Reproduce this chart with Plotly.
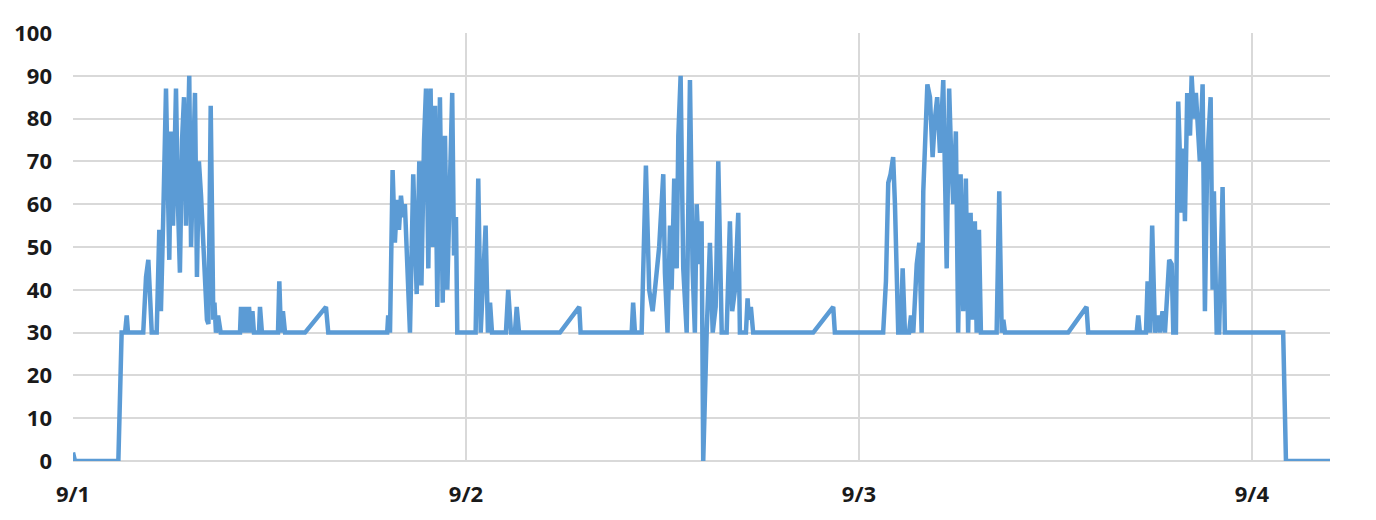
import pandas as pd
import plotly.graph_objects as go

# hours since 9/1 00:00 and the reading at that time
hours = [
    0.00, 0.12, 2.77, 2.97, 3.18, 3.28, 3.36, 4.29, 4.46, 4.60, 4.81, 5.11, 5.27, 5.37, 5.50,
    5.68, 5.88, 5.99, 6.11, 6.29, 6.41, 6.53, 6.66, 6.78, 6.90, 7.02, 7.10, 7.21, 7.33, 7.45,
    7.57, 7.69, 7.82, 7.96, 8.06, 8.18, 8.27, 8.41, 8.57, 8.64, 8.73, 8.86, 9.02, 10.20, 10.26,
    10.38, 10.50, 10.63, 10.75, 10.87, 10.96, 11.05, 11.36, 11.42, 11.54, 12.52, 12.60, 12.70,
    12.82, 12.95, 14.17, 15.45, 15.59,
    19.19, 19.25, 19.36, 19.52, 19.66, 19.79, 19.91, 20.03, 20.15, 20.27, 20.58, 20.78, 20.99,
    21.15, 21.28, 21.44, 21.56, 21.70, 21.84, 21.97, 22.11, 22.25, 22.41, 22.58, 22.72, 22.86,
    23.02, 23.16, 23.27, 23.39, 23.47, 24.59, 24.75, 24.90, 25.20, 25.34, 25.47, 25.59, 26.44,
    26.58, 26.75, 26.99, 27.10, 27.24, 29.74, 30.92, 31.00,
    34.12, 34.21, 34.32, 34.73, 34.99, 35.19, 35.40, 35.54, 35.80, 36.05, 36.15, 36.31, 36.46,
    36.56, 36.72, 36.87, 36.97, 37.11, 37.27, 37.48, 37.68, 37.84, 37.98, 38.09, 38.25, 38.39,
    38.49, 38.70, 38.90, 39.07, 39.25, 39.41, 39.62, 39.92, 40.12, 40.26, 40.43, 40.63, 40.73,
    41.10, 41.20, 41.28, 41.40, 41.54, 45.21, 46.43, 46.53,
    49.48, 49.65, 49.79, 49.93, 50.09, 50.20, 50.40, 50.55, 50.67, 50.81, 51.06, 51.18, 51.32,
    51.53, 51.69, 51.83, 51.93, 52.08, 52.18, 52.34, 52.50, 52.64, 52.78, 52.95, 53.15, 53.36,
    53.51, 53.62, 53.76, 53.92, 54.06, 54.21, 54.37, 54.53, 54.67, 54.82, 54.94, 55.08, 55.19,
    55.33, 55.45, 56.41, 56.57, 56.72, 56.82, 56.92, 60.78, 61.90, 62.00,
    64.96, 65.06, 65.16, 65.53, 65.63, 65.77, 65.91, 66.08, 66.28, 66.38, 66.54, 66.69, 66.95,
    67.10, 67.20, 67.36, 67.50, 67.71, 67.81, 67.91, 68.05, 68.22, 68.32, 68.46, 68.58, 68.72,
    68.82, 68.99, 69.13, 69.27, 69.48, 69.60, 69.68, 69.85, 70.00, 70.21, 70.35, 73.91, 74.08,
    76.77,
]
values = [
    2, 0, 0, 30, 30, 34, 30, 30, 43, 47, 30, 30, 54, 35, 55,
    87, 47, 77, 55, 87, 60, 44, 75, 85, 55, 82, 90, 50, 72, 86,
    43, 70, 62, 50, 40, 33, 32, 83, 33, 37, 30, 34, 30, 30, 36,
    30, 36, 30, 36, 30, 35, 30, 30, 36, 30, 30, 42, 30,
    35, 30, 30, 36, 30,
    30, 34, 30, 68, 51, 61, 54, 62, 57, 60, 30, 67, 39,
    70, 41, 75, 87, 45, 87, 50, 83, 36, 85, 37, 76, 40,
    70, 86, 48, 57, 30, 30, 66, 30, 55, 30, 37, 30, 30,
    40, 30, 30, 36, 30, 30, 36, 30,
    30, 37, 30, 30, 69, 40, 35, 40, 50, 67, 44, 30, 55,
    40, 66, 45, 76, 90, 45, 30, 89, 45, 30, 60, 46, 56,
    0, 30, 51, 30, 36, 70, 30, 30, 56, 35, 40, 58, 30,
    30, 38, 33, 36, 30, 30, 36, 30,
    30, 42, 65, 67, 71, 60, 30, 30, 45, 30, 30, 34, 30,
    46, 51, 30, 63, 81, 88, 85, 71, 80, 85, 72, 89, 45,
    87, 73, 60, 77, 30, 67, 35, 66, 30, 58, 33, 56, 30,
    54, 30, 30, 63, 30, 33, 30, 30, 36, 30,
    30, 34, 30, 30, 42, 30, 55, 30, 34, 30, 35, 30, 47,
    46, 30, 30, 84, 58, 73, 56, 86, 76, 90, 80, 86, 74,
    70, 88, 35, 70, 85, 40, 63, 30, 30, 64, 30, 30, 0,
    0,
]

start = pd.Timestamp("2023-09-01")
times = start + pd.to_timedelta(hours, unit="h")
end = start + pd.to_timedelta(76.77, unit="h")

fig = go.Figure(
    go.Scatter(x=times, y=values, mode="lines", line=dict(color="#5B9BD5", width=4.5))
)

tick_font = dict(family="Open Sans", size=22, color="#1a1a1a", weight="bold")

# the page body adds an 8px margin, so the figure is sized to fit inside it
fig.update_layout(
    width=1366,
    height=510,
    margin=dict(l=65, r=44, t=25, b=57),
    plot_bgcolor="white",
    paper_bgcolor="white",
    showlegend=False,
)
fig.update_xaxes(
    type="date",
    range=[start, end],
    dtick=86400000,
    tick0=start,
    tickformat="%-m/%-d",
    showgrid=True,
    gridcolor="#d9d9d9",
    gridwidth=2,
    zeroline=False,
    showline=False,
    tickfont=tick_font,
    ticklabelstandoff=18,
    automargin=False,
)
fig.update_yaxes(
    range=[0, 100],
    dtick=10,
    showgrid=True,
    gridcolor="#d9d9d9",
    gridwidth=2,
    zeroline=True,
    zerolinecolor="#d9d9d9",
    zerolinewidth=2,
    tickfont=tick_font,
    ticklabelstandoff=20,
    automargin=False,
)

fig.write_html("out.html")
